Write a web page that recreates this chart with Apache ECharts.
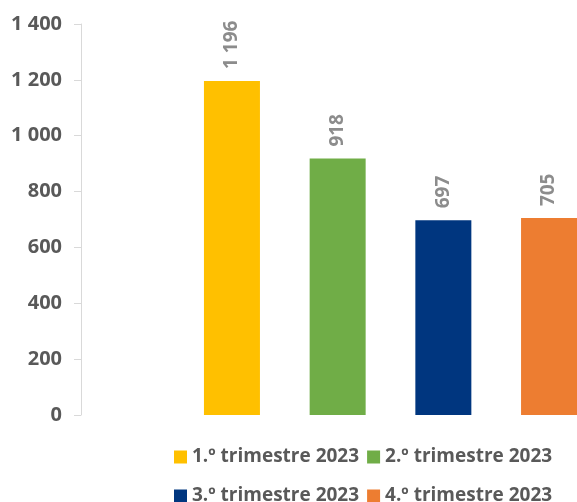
<!DOCTYPE html>
<html>
<head>
<meta charset="utf-8">
<script src="https://cdn.jsdelivr.net/npm/echarts@6/dist/echarts.min.js"></script>
<style>html,body{margin:0;padding:0;background:#fff}#c{width:577px;height:502px}</style>
</head>
<body>
<div id="c"></div>
<script>
var seriesNames = ['1.º trimestre 2023', '2.º trimestre 2023', '3.º trimestre 2023', '4.º trimestre 2023'];
var seriesValues = [1196, 918, 697, 705];
var seriesColors = ['#FFC000', '#70AD47', '#00367F', '#ED7D31'];
var categories = [''];

function fmt(v) {
  return String(v).replace(/\B(?=(\d{3})+(?!\d))/g, ' ');
}

var FONT = 'Open Sans';
var series = seriesNames.map(function (n, i) {
  return {
    name: n,
    type: 'bar',
    data: [seriesValues[i]],
    barWidth: 56,
    barGap: '88.75%',
    itemStyle: { color: seriesColors[i] },
    label: {
      show: true,
      position: 'top',
      rotate: 90,
      align: 'left',
      verticalAlign: 'middle',
      distance: 12,
      color: '#8C8C8C',
      fontFamily: FONT,
      fontWeight: 'bold',
      fontSize: 19,
      formatter: function (p) { return fmt(p.value); }
    }
  };
});

var legendCommon = {
  orient: 'horizontal',
  itemWidth: 13,
  itemHeight: 13,
  itemGap: 8,
  icon: 'rect',
  left: 174,
  textStyle: { color: '#595959', fontFamily: FONT, fontWeight: 'bold', fontSize: 19, lineHeight: 20, padding: [0, 0, 0, 0] },
  padding: 0
};

var chart = echarts.init(document.getElementById('c'), null, { renderer: 'canvas' });
chart.setOption({
  animation: false,
  backgroundColor: '#fff',
  grid: { left: 81, width: 619, top: 24, height: 391, containLabel: false, outerBoundsMode: 'none' },
  legend: [
    Object.assign({}, legendCommon, { top: 447, data: [seriesNames[0], seriesNames[1]] }),
    Object.assign({}, legendCommon, { top: 486, data: [seriesNames[2], seriesNames[3]] })
  ],
  xAxis: {
    type: 'category',
    data: categories,
    axisLine: { show: false },
    axisTick: { show: false },
    axisLabel: { show: false },
    splitLine: { show: false }
  },
  yAxis: {
    type: 'value',
    min: 0,
    max: 1400,
    interval: 200,
    axisLine: { show: true, lineStyle: { color: '#D9D9D9', width: 1 } },
    axisTick: { show: true, length: 7, lineStyle: { color: '#D9D9D9' } },
    splitLine: { show: false },
    axisLabel: {
      margin: 19,
      color: '#595959',
      fontFamily: FONT,
      fontWeight: 'bold',
      fontSize: 20,
      formatter: function (v) { return fmt(v); }
    }
  },
  series: series
});
</script>
</body>
</html>
